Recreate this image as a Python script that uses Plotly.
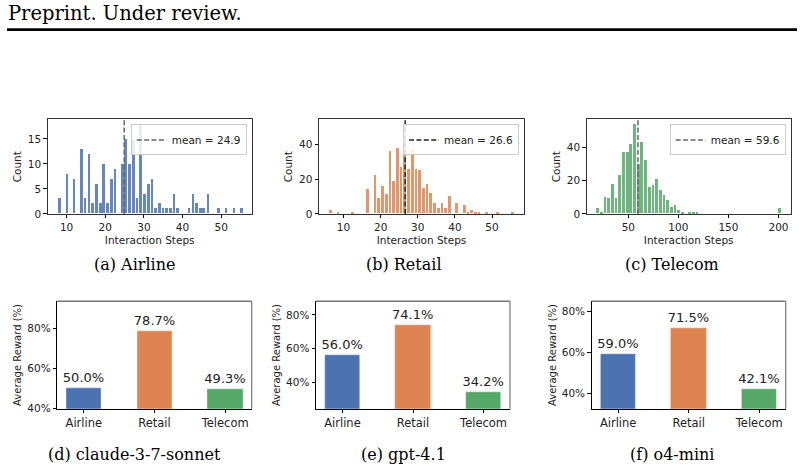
import plotly.graph_objects as go

W, H = 804, 476

# ---------------- data ----------------
airline_steps = [8.0, 10.0, 11.8, 13.8, 14.7, 15.7, 16.6, 17.6, 18.6, 19.5, 20.5, 21.5, 22.4,
                 24.3, 25.2, 26.2, 27.2, 28.1, 29.1, 30.0, 31.1, 32.0, 33.0, 33.9, 34.9, 35.8,
                 36.8, 37.7, 38.7, 41.6, 42.6, 43.5, 44.5, 45.4, 46.5, 49.3, 51.2, 53.2, 55.1]
airline_counts = [3, 8, 7, 13, 3, 12, 2, 6, 2, 10, 2, 7, 9,
                  10, 15, 10, 15, 3, 18, 4, 6, 7, 1, 2, 1, 1,
                  1, 4, 1, 1, 4, 2, 1, 1, 4, 1, 1, 1, 1]

retail_steps = [6.5, 8.5, 12.5, 16.5, 18.5, 19.5, 20.5, 21.5, 22.5, 23.5, 24.5, 25.5, 26.5,
                27.5, 28.5, 29.5, 30.5, 31.5, 32.5, 33.5, 34.5, 35.5, 36.5, 37.5, 38.5, 40.5,
                42.5, 43.5, 44.5, 45.5, 46.5, 48.5, 51.5, 55.5]
retail_counts = [2, 1, 1, 14, 22, 9, 16, 11, 36, 19, 38, 27, 52,
                 26, 37, 26, 25, 15, 17, 12, 6, 3, 6, 3, 10, 6,
                 5, 1, 2, 1, 1, 1, 1, 1]

telecom_steps = [19.2, 22.9, 26.5, 30.2, 33.9, 37.5, 41.2, 44.9, 48.6, 52.2, 55.9, 59.6, 63.2,
                 66.9, 70.6, 74.2, 77.9, 81.6, 85.3, 88.9, 92.6, 96.3, 99.9, 103.6, 110.9,
                 114.6, 118.3, 200.8]
telecom_counts = [3, 1, 10, 9, 18, 9, 23, 37, 37, 42, 54, 30, 43,
                  32, 16, 17, 21, 14, 11, 8, 4, 5, 2, 1, 1,
                  1, 1, 3]

mean_steps = [24.9, 26.6, 59.6]
hist_titles = ["(a) Airline", "(b) Retail", "(c) Telecom"]

domains = ["Airline", "Retail", "Telecom"]
reward_claude = [50.0, 78.7, 49.3]
reward_gpt41 = [56.0, 74.1, 34.2]
reward_o4mini = [59.0, 71.5, 42.1]
bar_titles = ["(d) claude-3-7-sonnet", "(e) gpt-4.1", "(f) o4-mini"]
reward_ticks = [40, 60, 80]

# ---------------- style ----------------
BLUE, ORANGE, GREEN = "#4C72B0", "#DD8452", "#55A868"
SANS = "DejaVu Sans"
SERIF = "DejaVu Serif"

def px_x(p):
    return p / W

def px_y(p):
    return 1 - p / H

fig = go.Figure()

# subplot geometry (pixels)
top_boxes = [(47.7, 251.7), (319, 524), (586.7, 790.7)]
top_y = (121, 216.7)
bot_boxes = [(57.3, 251.7), (316, 510), (591.7, 785.7)]
bot_y = (305, 414)
caption_centers = [134, 403.5, 671.5]

hist_data = [(airline_steps, airline_counts, BLUE, 0.94),
             (retail_steps, retail_counts, ORANGE, 1.0),
             (telecom_steps, telecom_counts, GREEN, 3.68)]
x_ranges = [[5.1, 57.9], [3.4, 58.6], [8.4, 212.2]]
y_ranges = [[0, 18.9], [0, 54.6], [0, 56.7]]
y_ticks = [[0, 5, 10, 15], [0, 20, 40], [0, 20, 40]]
x_ticks = [[10, 20, 30, 40, 50], [10, 20, 30, 40, 50], [50, 100, 150, 200]]
mean_colors = ["#666666", "#222222", "#666666"]

axis_common = dict(showgrid=False, zeroline=False, ticks="outside", ticklen=3.5,
                   tickwidth=0.8, tickcolor="black", linecolor="#333333", linewidth=1,
                   tickfont=dict(family=SANS, size=10.5, color="#222"))

for i in range(3):
    xs, cs, col, bw = hist_data[i]
    xa = "x" if i == 0 else f"x{i+1}"
    ya = "y" if i == 0 else f"y{i+1}"
    lg = "legend" if i == 0 else f"legend{i+1}"
    fig.add_trace(go.Bar(x=xs, y=cs, width=bw * 0.74, marker=dict(color=col, line=dict(width=0)),
                         opacity=0.85, xaxis=xa, yaxis=ya, showlegend=False))
    fig.add_trace(go.Scatter(x=[mean_steps[i], mean_steps[i]], y=y_ranges[i],
                             mode="lines", line=dict(color=mean_colors[i], width=1.5, dash="5px,2.4px"),
                             name=f"mean = {mean_steps[i]}", xaxis=xa, yaxis=ya,
                             legend=lg, showlegend=True))
    x0, x1 = top_boxes[i]
    xkey = "xaxis" if i == 0 else f"xaxis{i+1}"
    ykey = "yaxis" if i == 0 else f"yaxis{i+1}"
    fig.update_layout(**{
        xkey: dict(axis_common, domain=[px_x(x0), px_x(x1)], anchor=ya, range=x_ranges[i],
                   tickvals=x_ticks[i], mirror=True,
                   title=dict(text="Interaction Steps", standoff=4, font=dict(family=SANS, size=10.5, color="#222"))),
        ykey: dict(axis_common, domain=[px_y(top_y[1]), px_y(top_y[0])], anchor=xa, range=y_ranges[i],
                   tickvals=y_ticks[i], mirror=True,
                   title=dict(text="Count", standoff=4, font=dict(family=SANS, size=10.5, color="#222"))),
        lg: dict(x=px_x(x1 - 5), y=px_y(top_y[0] + 5), xanchor="right", yanchor="top",
                 bgcolor="rgba(255,255,255,0.85)", bordercolor="#cccccc", borderwidth=1,
                 font=dict(family=SANS, size=10.5, color="#222"), itemwidth=30,
                 tracegroupgap=0),
    })
    fig.add_annotation(text=hist_titles[i], x=px_x(caption_centers[i]), y=px_y(268), xref="paper", yref="paper",
                       showarrow=False, font=dict(family=SERIF, size=16, color="black"),
                       xanchor="center", yanchor="middle")

bar_sets = [reward_claude, reward_gpt41, reward_o4mini]
bar_yr = [[39.7, 93.5], [24.4, 88.2], [32.5, 84.8]]
for j in range(3):
    k = j + 4
    xa, ya = f"x{k}", f"y{k}"
    fig.add_trace(go.Bar(x=[0, 1, 2], y=bar_sets[j], width=0.5,
                         marker=dict(color=[BLUE, ORANGE, GREEN], line=dict(width=0.6, color="rgba(255,255,255,0.6)")),
                         text=[f"{v:.1f}%" for v in bar_sets[j]], textposition="outside",
                         constraintext="none",
                         textfont=dict(family=SANS, size=13, color="#222"), cliponaxis=False,
                         xaxis=xa, yaxis=ya, showlegend=False))
    x0, x1 = bot_boxes[j]
    fig.update_layout(**{
        f"xaxis{k}": dict(axis_common, domain=[px_x(x0), px_x(x1)], anchor=ya, range=[-0.375, 2.375],
                          tickvals=[0, 1, 2], ticktext=domains, linecolor="black",
                          tickfont=dict(family=SANS, size=11.5, color="#222")),
        f"yaxis{k}": dict(axis_common, domain=[px_y(bot_y[1]), px_y(bot_y[0])], anchor=xa, range=bar_yr[j],
                          tickvals=reward_ticks, ticktext=[f"{t}%" for t in reward_ticks], linecolor="black",
                          tickfont=dict(family=SANS, size=10.5, color="#222"),
                          title=dict(text="Average Reward (%)", standoff=3, font=dict(family=SANS, size=10, color="#222"))),
    })
    # top and right spines (grey)
    fig.add_shape(type="line", xref="paper", yref="paper", x0=px_x(x0), x1=px_x(x1),
                  y0=px_y(bot_y[0]), y1=px_y(bot_y[0]), line=dict(color="#777777", width=1.5))
    fig.add_shape(type="line", xref="paper", yref="paper", x0=px_x(x1), x1=px_x(x1),
                  y0=px_y(bot_y[0]), y1=px_y(bot_y[1]), line=dict(color="#777777", width=1.2))
    fig.add_annotation(text=bar_titles[j], x=px_x(caption_centers[j]), y=px_y(460), xref="paper", yref="paper",
                       showarrow=False, font=dict(family=SERIF, size=16, color="black"),
                       xanchor="center", yanchor="middle")

# header
fig.add_annotation(text="Preprint. Under review.", x=px_x(6), y=px_y(14), xref="paper", yref="paper",
                   showarrow=False, xanchor="left", yanchor="middle",
                   font=dict(family=SERIF, size=19.5, color="black"))
fig.add_shape(type="rect", xref="paper", yref="paper", x0=px_x(7), x1=px_x(797),
              y0=px_y(31.5), y1=px_y(28.5), line=dict(width=0), fillcolor="black")

fig.update_layout(width=W, height=H, margin=dict(l=0, r=0, t=0, b=0),
                  paper_bgcolor="white", plot_bgcolor="white", bargap=0)

fig.write_html("out.html")
